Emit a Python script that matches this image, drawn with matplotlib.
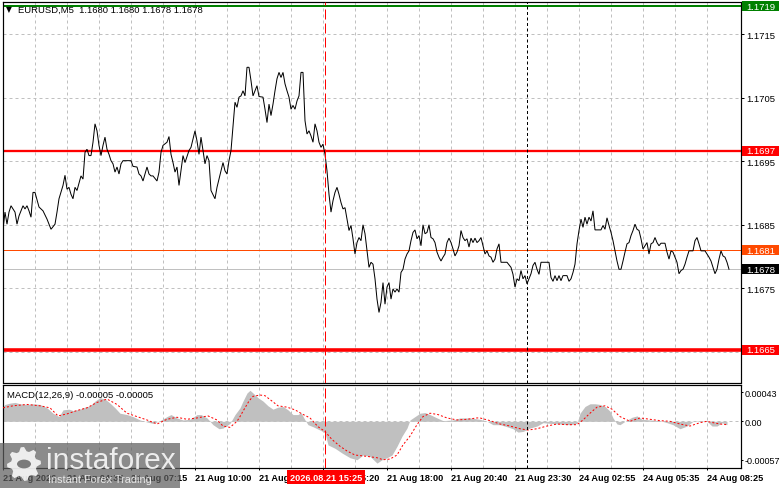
import numpy as np
import matplotlib
matplotlib.use('Agg')
import matplotlib.pyplot as plt
from matplotlib.patches import Rectangle, Polygon, Circle
from matplotlib.transforms import blended_transform_factory

plt.rcParams['font.family'] = ['Liberation Sans', 'DejaVu Sans']

# ---------------- data ----------------
price_bar = [0, 1, 2, 3, 4, 6, 7, 8, 10, 11, 12, 13, 14, 15, 16, 18, 20, 22, 23, 24, 26, 27, 28, 30, 31,
             32, 33, 34, 35, 36, 37, 39, 40, 41, 42, 43, 44, 45, 46, 47, 48, 49, 50, 51, 52, 53, 54, 55,
             56, 57, 58, 59, 60, 64, 65, 67, 68, 69, 70, 72, 73, 74, 75, 77, 78, 79, 80, 82, 83, 84, 85,
             86, 87, 88, 90, 91, 93, 94, 96, 97, 98, 99, 100, 101, 102, 103, 104, 106, 107, 108, 110, 111,
             112, 113, 114, 115, 116, 117, 118, 119, 120, 121, 122, 123, 124, 125, 126, 127, 128, 130, 131,
             132, 133, 134, 135, 136, 137, 138, 139, 140, 141, 142, 143, 144, 145, 146, 147, 148, 149, 150,
             151, 152, 153, 154, 155, 156, 157, 158, 159, 160, 161, 162, 163, 164, 165, 166, 167, 168, 169,
             170, 171, 172, 173, 174, 175, 176, 177, 178, 179, 180, 181, 182, 183, 184, 185, 186, 187, 188,
             189, 190, 191, 192, 193, 194, 195, 196, 197, 198, 199, 200, 201, 202, 203, 204, 205, 206, 207,
             208, 209, 210, 211, 212, 213, 214, 215, 216, 217, 218, 219, 220, 221, 222, 223, 224, 225, 226,
             227, 228, 229, 230, 231, 232, 233, 234, 235, 236, 237, 238, 239, 240, 241, 242, 243, 244, 245,
             246, 247, 248, 249, 252, 254, 255, 256, 257, 258, 259, 260, 261, 262, 263, 264, 265, 266, 267,
             268, 269, 273, 274, 275, 276, 277, 278, 279, 280, 282, 283, 284, 285, 286, 287, 288, 289, 290,
             291, 292, 293, 294, 295, 296, 299, 300, 301, 302, 303, 304, 305, 306, 307, 308, 309, 310, 311,
             312, 313, 314, 315, 316, 317, 318, 319, 320, 321, 322, 323, 324, 325, 326, 327, 328, 329, 331,
             332, 333, 334, 335, 336, 337, 338, 339, 340, 341, 342, 343, 345, 346, 347, 348, 349, 351, 352,
             353, 354, 355, 356, 357, 358, 359, 360, 361, 362, 363]
price_close = [1.16843, 1.16870, 1.16851, 1.16870, 1.16880, 1.16870, 1.16851, 1.16864, 1.16880, 1.16875,
               1.16880, 1.16872, 1.16862, 1.16901, 1.16901, 1.16878, 1.16872, 1.16859, 1.16851, 1.16843,
               1.16851, 1.16870, 1.16891, 1.16912, 1.16928, 1.16906, 1.16909, 1.16898, 1.16891, 1.16909,
               1.16904, 1.16927, 1.16922, 1.16964, 1.16969, 1.16959, 1.16959, 1.16980, 1.17009, 1.16998,
               1.16975, 1.16959, 1.16975, 1.16988, 1.16969, 1.16961, 1.16951, 1.16946, 1.16933, 1.16941,
               1.16930, 1.16946, 1.16951, 1.16951, 1.16942, 1.16941, 1.16930, 1.16927, 1.16919, 1.16941,
               1.16930, 1.16927, 1.16927, 1.16919, 1.16933, 1.16964, 1.16975, 1.16980, 1.16989, 1.16961,
               1.16948, 1.16933, 1.16941, 1.16912, 1.16959, 1.16948, 1.16967, 1.16972, 1.16998, 1.16982,
               1.16961, 1.16988, 1.16967, 1.16946, 1.16959, 1.16951, 1.16904, 1.16891, 1.16909, 1.16922,
               1.16948, 1.16935, 1.16930, 1.16951, 1.16967, 1.17006, 1.17043, 1.17035, 1.17051, 1.17053,
               1.17061, 1.17053, 1.17098, 1.17098, 1.17077, 1.17053, 1.17061, 1.17069, 1.17052, 1.17051,
               1.17032, 1.17011, 1.17040, 1.17022, 1.17040, 1.17061, 1.17080, 1.17090, 1.17082, 1.17090,
               1.17072, 1.17061, 1.17051, 1.17032, 1.17038, 1.17032, 1.17045, 1.17053, 1.17090, 1.17090,
               1.17014, 1.16993, 1.16998, 1.16990, 1.16980, 1.17009, 1.16998, 1.16980, 1.16972, 1.16977,
               1.16961, 1.16935, 1.16898, 1.16870, 1.16888, 1.16901, 1.16909, 1.16898, 1.16885, 1.16875,
               1.16877, 1.16859, 1.16841, 1.16849, 1.16828, 1.16804, 1.16822, 1.16830, 1.16825, 1.16850,
               1.16836, 1.16809, 1.16783, 1.16791, 1.16788, 1.16765, 1.16733, 1.16712, 1.16728, 1.16759,
               1.16725, 1.16752, 1.16759, 1.16733, 1.16749, 1.16744, 1.16749, 1.16744, 1.16775, 1.16780,
               1.16796, 1.16804, 1.16809, 1.16825, 1.16838, 1.16842, 1.16828, 1.16833, 1.16817, 1.16850,
               1.16836, 1.16838, 1.16850, 1.16830, 1.16828, 1.16822, 1.16807, 1.16799, 1.16793, 1.16799,
               1.16804, 1.16822, 1.16829, 1.16822, 1.16812, 1.16801, 1.16807, 1.16817, 1.16841, 1.16830,
               1.16825, 1.16828, 1.16815, 1.16829, 1.16822, 1.16829, 1.16822, 1.16825, 1.16830, 1.16817,
               1.16804, 1.16809, 1.16801, 1.16799, 1.16791, 1.16796, 1.16812, 1.16820, 1.16791, 1.16791,
               1.16783, 1.16772, 1.16752, 1.16765, 1.16762, 1.16778, 1.16765, 1.16770, 1.16757, 1.16765,
               1.16773, 1.16786, 1.16791, 1.16780, 1.16772, 1.16791, 1.16791, 1.16767, 1.16761, 1.16770,
               1.16762, 1.16770, 1.16762, 1.16770, 1.16770, 1.16761, 1.16765, 1.16775, 1.16788, 1.16820,
               1.16841, 1.16859, 1.16846, 1.16862, 1.16851, 1.16862, 1.16856, 1.16872, 1.16842, 1.16842,
               1.16849, 1.16843, 1.16861, 1.16849, 1.16838, 1.16825, 1.16809, 1.16793, 1.16780, 1.16780,
               1.16793, 1.16807, 1.16820, 1.16822, 1.16833, 1.16841, 1.16851, 1.16843, 1.16841, 1.16828,
               1.16812, 1.16817, 1.16822, 1.16804, 1.16820, 1.16822, 1.16830, 1.16822, 1.16817, 1.16821,
               1.16821, 1.16807, 1.16796, 1.16809, 1.16807, 1.16799, 1.16791, 1.16773, 1.16778, 1.16780,
               1.16788, 1.16799, 1.16809, 1.16809, 1.16825, 1.16830, 1.16820, 1.16809, 1.16809, 1.16804,
               1.16799, 1.16793, 1.16783, 1.16773, 1.16780, 1.16796, 1.16809, 1.16801, 1.16799, 1.16791,
               1.16780]

hist_bar = [0, 1, 3.5, 6, 8.5, 12, 15, 18.5, 22, 25, 28, 30, 33, 35, 38.5, 41, 43.5, 46, 48.5, 51, 53.5,
            56, 58.5, 62, 65, 68.5, 72, 75, 78.5, 82, 84, 87, 90, 93.5, 97, 99, 102, 105, 108, 110, 113.5,
            116, 118.5, 120, 122, 123.5, 125, 127.5, 130, 132.5, 135, 137.5, 140, 142.5, 145, 147.5, 149,
            151, 152.5, 155, 158.5, 161, 162.5, 166, 169.5, 173.5, 177, 180, 183.5, 187, 189.5, 192, 194.5,
            197, 199.5, 202, 203.5, 206, 208.5, 211, 213.5, 217, 220, 225, 228.5, 233.5, 238.5, 242, 245,
            248.5, 252, 255, 257.5, 260, 263.5, 267, 270, 273.5, 278.5, 283.5, 287, 288.5, 291, 293.5, 296,
            298.5, 301, 303.5, 305, 307, 308.5, 311, 314.5, 317, 319.5, 323.5, 328.5, 332, 335, 338.5, 342,
            345, 348.5, 352, 354.5, 357, 359.5, 362]
hist_val = [0.00022, 0.00025, 0.00027, 0.00028, 0.00026, 0.00025, 0.00026, 0.00025, 0.00020, 0.00012,
            0.00007, 0.00017, 0.00018, 0.00016, 0.00018, 0.00021, 0.00023, 0.00030, 0.00035, 0.00033,
            0.00027, 0.00020, 0.00012, 0.00010, 0.00007, 0.00002, -0.00001, -0.00003, 0.00001, 0.00007,
            0.00010, 0.00005, 0.00002, 0.00003, 0.00010, 0.00010, 0.00005, -0.00005, -0.00011, -0.00010,
            -0.00003, 0.00010, 0.00020, 0.00030, 0.00042, 0.00046, 0.00042, 0.00035, 0.00030, 0.00023,
            0.00018, 0.00021, 0.00022, 0.00017, 0.00010, 0.00010, 0.00013, 0.00002, -0.00005, -0.00008,
            -0.00013, -0.00017, -0.00035, -0.00040, -0.00047, -0.00054, -0.00057, -0.00050, -0.00052,
            -0.00062, -0.00057, -0.00054, -0.00050, -0.00037, -0.00022, -0.00010, 0.00002, 0.00007,
            0.00012, 0.00013, 0.00010, 0.00005, 0.00001, 0.00002, 0.00005, 0.00005, 0.00003, 0.00000,
            -0.00005, -0.00005, -0.00008, -0.00011, -0.00016, -0.00015, -0.00010, -0.00007, -0.00002,
            -0.00003, -0.00004, -0.00005, -0.00003, 0.00012, 0.00022, 0.00026, 0.00026, 0.00025, 0.00022,
            0.00015, 0.00005, -0.00004, -0.00005, 0.00000, 0.00006, 0.00008, 0.00003, 0.00002, 0.00001,
            -0.00002, -0.00005, -0.00011, -0.00007, 0.00000, 0.00001, 0.00000, -0.00007, -0.00007,
            -0.00002, -0.00005]

sig_bar = [0, 5, 12, 18.5, 23.5, 27.5, 32, 37, 42, 47, 52, 57, 62, 67, 72, 77, 82, 87, 92, 97, 102.5,
           107, 110, 113.5, 117, 118.5, 120, 122, 123, 125, 128.5, 131, 134.5, 137.5, 142, 146, 149.5,
           153.5, 157.5, 161, 164.5, 168.5, 172, 176, 182, 187, 190, 193.5, 197, 200, 203.5, 207, 210,
           213.5, 217.5, 222, 227, 232, 237, 238.5, 243.5, 248.5, 253.5, 258.5, 262.5, 267, 272, 277, 282,
           287, 290, 293.5, 297, 301, 304.5, 308.5, 313.5, 318.5, 323.5, 328.5, 333.5, 338.5, 343.5,
           348.5, 352, 355, 358.5, 362]
sig_val = [0.00020, 0.00023, 0.00025, 0.00023, 0.00020, 0.00008, 0.00011, 0.00016, 0.00020, 0.00028,
           0.00033, 0.00025, 0.00012, 0.00007, 0.00002, -0.00004, 0.00003, 0.00006, 0.00003, 0.00005,
           0.00008, 0.00002, -0.00007, -0.00009, 0.00000, 0.00007, 0.00015, 0.00025, 0.00030, 0.00037,
           0.00039, 0.00038, 0.00030, 0.00023, 0.00021, 0.00017, 0.00011, 0.00005, -0.00008, -0.00015,
           -0.00027, -0.00037, -0.00044, -0.00050, -0.00052, -0.00054, -0.00057, -0.00056, -0.00050,
           -0.00035, -0.00022, -0.00005, 0.00007, 0.00012, 0.00010, 0.00005, 0.00002, 0.00003, 0.00005,
           0.00005, 0.00001, -0.00004, -0.00007, -0.00011, -0.00013, -0.00011, -0.00007, -0.00004,
           -0.00005, -0.00005, 0.00002, 0.00012, 0.00021, 0.00023, 0.00018, 0.00007, 0.00000, 0.00005,
           0.00003, 0.00001, 0.00000, -0.00004, -0.00007, -0.00002, 0.00000, -0.00002, -0.00004, -0.00005]

time_tick_bars = [0, 32, 64, 96, 128, 160, 192, 224, 256, 288, 320, 352]
time_tick_labels = ['21 Aug 2026', '21 Aug 04:35', '21 Aug 07:15', '21 Aug 10:00', '21 Aug 12:40',
                    '21 Aug 15:20', '21 Aug 18:00', '21 Aug 20:40', '21 Aug 23:30', '24 Aug 02:55',
                    '24 Aug 05:35', '24 Aug 08:25']
price_ticks = [1.1675, 1.1685, 1.1695, 1.1705, 1.1715]
price_tick_labels = ['1.1675', '1.1685', '1.1695', '1.1705', '1.1715']
macd_ticks = [-0.00057, 0.0, 0.00043]
macd_tick_labels = ['-0.00057', '0.00', '0.00043']

level_values = [1.17194, 1.16967, 1.16653]
level_labels = ['1.1719', '1.1697', '1.1665']
level_colors = ['#008000', '#ff0000', '#ff0000']
ask_value, ask_label = 1.1681, '1.1681'
bid_value, bid_label = 1.1678, '1.1678'
red_vline_bar, red_vline_label = 161, '2026.08.21 15:25'
black_vline_bar = 262

title_text = 'EURUSD,M5  1.1680 1.1680 1.1678 1.1678'
macd_text = 'MACD(12,26,9) -0.00005 -0.00005'

# ---------------- figure ----------------
W, H = 781, 489
fig = plt.figure(figsize=(W / 100, H / 100), dpi=100)
fig.patch.set_facecolor('white')
PX = 0.72  # one pixel in points


def fx(px):
    return px / W


def fy(py):
    return 1 - py / H


left, right = 2.7, 741
ax = fig.add_axes([fx(left), fy(383.5), fx(right) - fx(left), fy(2.7) - fy(383.5)])
axm = fig.add_axes([fx(left), fy(468.7), fx(right) - fx(left), fy(385.5) - fy(468.7)])

grid_kw = dict(color='#c0c0c0', lw=PX, dashes=(3, 3), zorder=0)
for a in (ax, axm):
    a.set_xlim(-0.15, 369)
    for s in a.spines.values():
        s.set_color('black')
        s.set_linewidth(1.2 * PX)
    for b in range(16, 360, 16):
        a.axvline(b, **grid_kw)
    a.set_facecolor('white')

ax.set_ylim(1.166017, 1.172013)
axm.set_ylim(-0.000688, 0.000546)

for t in np.arange(1.1665, 1.1716, 0.001):
    ax.axhline(t, **grid_kw)
axm.axhline(0, **grid_kw)

# level lines
lw_levels = [2.0, 2.3, 3.6]
for v, c, w in zip(level_values, level_colors, lw_levels):
    ax.axhline(v, color=c, lw=w * PX, zorder=2)
ax.axhline(ask_value, color='#ff4a00', lw=PX, zorder=2)
ax.axhline(bid_value, color='#c0c0c0', lw=PX, zorder=2)

# price line
ax.plot(price_bar, price_close, color='black', lw=1.0 * PX, zorder=3, solid_joinstyle='miter')

# vertical markers
for a in (ax, axm):
    a.axvline(red_vline_bar, color='#ff0000', lw=PX, dashes=(10, 4), zorder=4)
    a.axvline(black_vline_bar, color='black', lw=PX, dashes=(3, 2.5), zorder=4)

# MACD
axm.fill_between(hist_bar, 0, hist_val, color='#c0c0c0', lw=0, zorder=1)
axm.plot(sig_bar, sig_val, color='#ff0000', lw=PX, dashes=(2, 2), zorder=3)

# right axes ticks
ax.yaxis.tick_right()
ax.set_yticks(price_ticks)
ax.set_yticklabels(price_tick_labels)
ax.tick_params(axis='y', length=3 * PX, width=PX, pad=1.5, labelsize=6.8, colors='black')
ax.set_xticks([])

axm.yaxis.tick_right()
axm.set_yticks(macd_ticks)
axm.set_yticklabels(macd_tick_labels)
axm.tick_params(axis='y', length=2 * PX, width=PX, pad=1.0, labelsize=6.5)
axm.set_xticks(time_tick_bars)
axm.set_xticklabels(time_tick_labels, fontweight='bold')
axm.tick_params(axis='x', length=2 * PX, width=PX, pad=2.2, labelsize=6.6)
for lbl in axm.get_xticklabels():
    lbl.set_horizontalalignment('left')

# boxed price labels on the right axis
trans = blended_transform_factory(ax.transAxes, ax.transData)
box_w = 37 / (right - left)
box_h = 10 / 6.35 * 0.0001


def price_box(v, text, fc, tc='white'):
    ax.add_patch(Rectangle((1.0015, v - box_h / 2), box_w, box_h, transform=trans,
                           facecolor=fc, edgecolor='none', clip_on=False, zorder=6))
    ax.text(1.0015 + box_w / 2, v, text, transform=trans, ha='center', va='center',
            fontsize=6.8, color=tc, clip_on=False, zorder=7)


for v, t, c in zip(level_values, level_labels, level_colors):
    price_box(v, t, c)
price_box(ask_value, ask_label, '#ff4a00')
price_box(bid_value, bid_label, 'black')

# red date box at the bottom
transm = blended_transform_factory(axm.transData, axm.transAxes)
axm.text(red_vline_bar + 0.5, -0.115, red_vline_label, transform=transm, ha='center', va='center',
         fontsize=6.6, fontweight='bold', color='white', zorder=8, clip_on=False,
         bbox=dict(boxstyle='square,pad=0.28', fc='#ff0000', ec='none'))

# titles
fig.text(fx(5.5), fy(10), '\u25bc', fontsize=5.5, family='DejaVu Sans', va='center', ha='left')
fig.text(fx(18), fy(10.5), title_text, fontsize=6.8, va='center', ha='left', color='black')
fig.text(fx(7), fy(395.5), macd_text, fontsize=6.8, va='center', ha='left', color='black')

# watermark
fig.patches.append(Rectangle((0, 0), fx(180), fy(444), transform=fig.transFigure,
                             facecolor='#5f5f5f', alpha=0.72, edgecolor='none', zorder=20))
fig.text(fx(46), fy(461), 'instaforex', fontsize=21.5, color='white', alpha=0.85,
         va='center', ha='left', zorder=21)
fig.text(fx(48), fy(480), 'Instant Forex Trading', fontsize=7.8, color='white', alpha=0.8,
         va='center', ha='left', zorder=21)
# gear logo
cx, cy, r1, r2 = 24, 465, 13, 17
ang = np.linspace(0, 2 * np.pi, 8 * 4, endpoint=False)
rad = np.array([r1, r1, r2, r2] * 8)
gx = cx + rad * np.cos(ang + 0.2)
gy = cy + rad * np.sin(ang + 0.2)
fig.patches.append(Polygon(np.column_stack([fx(gx), fy(gy)]), closed=True, transform=fig.transFigure,
                           facecolor='white', alpha=0.85, edgecolor='none', zorder=21))
fig.patches.append(Circle((fx(cx), fy(cy)), fx(7), transform=fig.transFigure,
                          facecolor='#7a7a7a', edgecolor='none', zorder=22))

fig.savefig('out.png', dpi=100, facecolor='white')
